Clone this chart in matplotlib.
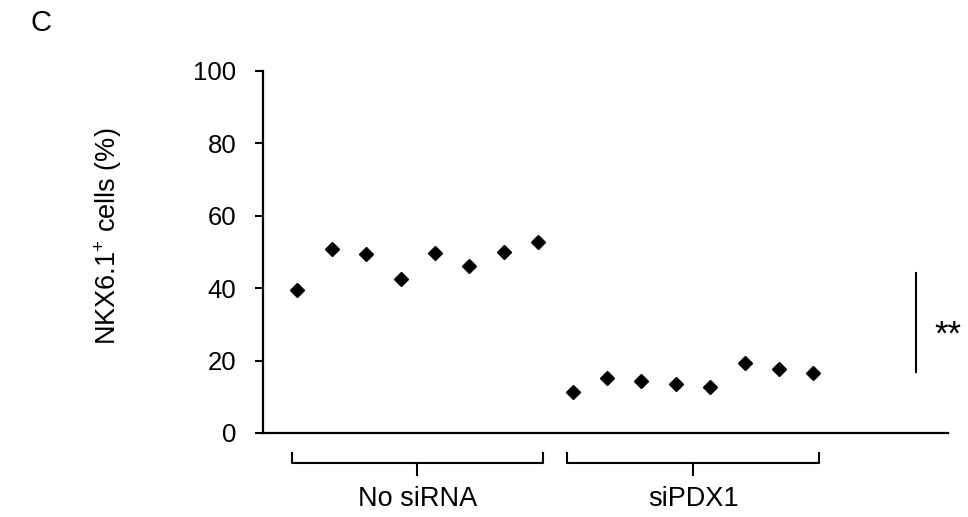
import numpy as np
import matplotlib
matplotlib.use('Agg')
import matplotlib.pyplot as plt

plt.rcParams['font.family'] = ['Liberation Sans', 'DejaVu Sans']
plt.rcParams['mathtext.fontset'] = 'custom'
plt.rcParams['mathtext.rm'] = 'Liberation Sans'
plt.rcParams['mathtext.it'] = 'Liberation Sans'

# data
groups = ['No siRNA', 'siPDX1']
no_sirna = [39.5, 50.7, 49.5, 42.5, 49.6, 46.0, 50.0, 52.7]
sipdx1 = [11.2, 15.1, 14.4, 13.4, 12.8, 19.3, 17.8, 16.6]
yticks = [0, 20, 40, 60, 80, 100]
sig_label = '**'

fig = plt.figure(figsize=(9.68, 5.17), dpi=100)
ax = fig.add_axes([0.2717, 0.1625, 0.979 - 0.2717, 0.7002])

x1 = np.arange(1, len(no_sirna) + 1)
x2 = np.arange(len(no_sirna) + 1, len(no_sirna) + len(sipdx1) + 1)
ax.plot(x1, no_sirna, 'D', color='black', markersize=7, linestyle='none')
ax.plot(x2, sipdx1, 'D', color='black', markersize=7, linestyle='none')

ax.set_xlim(0, 19.9)
ax.set_ylim(0, 100)
ax.set_yticks(yticks)
ax.set_xticks([])
ax.tick_params(axis='y', length=6, width=1.5, pad=13, labelsize=18.5)

for s in ['top', 'right']:
    ax.spines[s].set_visible(False)
for s in ['left', 'bottom']:
    ax.spines[s].set_linewidth(1.6)

# y label placed by hand, it sits a bit above the axis middle
fig.text(108 / 968, 1 - 236 / 517, r'NKX6.1$^{+}$ cells (%)', rotation=90,
         ha='center', va='center', fontsize=19.5)

# group brackets under the axis
spans = [(0.83, 8.15), (8.85, 16.17)]
for (a, b), name in zip(spans, groups):
    mid = (a + b) / 2
    ax.plot([a, a, b, b], [-5.5, -8.3, -8.3, -5.5], color='black', lw=1.5, clip_on=False)
    ax.plot([mid, mid], [-8.3, -11.6], color='black', lw=1.5, clip_on=False)
    ax.text(mid, -18.2, name, ha='center', va='center', fontsize=19.5)

# significance bar
ax.plot([18.97, 18.97], [16.9, 44.2], color='black', lw=1.5, clip_on=False)
ax.text(19.9, 27.0, sig_label, ha='center', va='center', fontsize=25)

fig.text(0.042, 0.955, 'C', ha='center', va='center', fontsize=21)

fig.savefig('out.png', dpi=100)
